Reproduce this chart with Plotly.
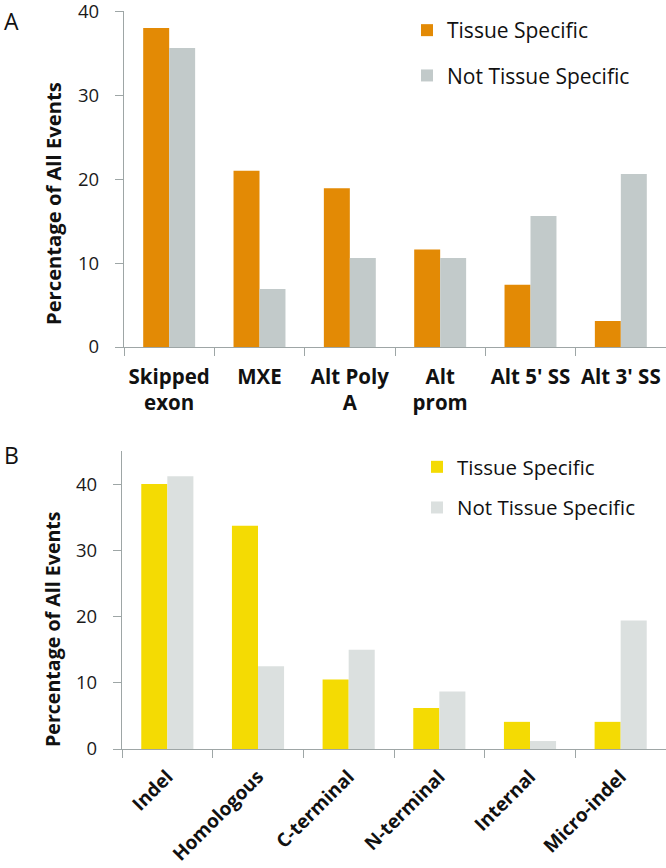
import plotly.graph_objects as go

# Panel A data
cats_a = ["Skipped<br>exon", "MXE", "Alt Poly<br>A", "Alt<br>prom", "Alt 5' SS", "Alt 3' SS"]
ts_a = [38.0, 21.0, 18.9, 11.6, 7.4, 3.1]
nts_a = [35.6, 6.9, 10.6, 10.6, 15.6, 20.6]

# Panel B data
cats_b = ["Indel", "Homologous", "C-terminal", "N-terminal", "Internal", "Micro-indel"]
ts_b = [40.0, 33.7, 10.5, 6.2, 4.1, 4.1]
nts_b = [41.2, 12.5, 15.0, 8.7, 1.2, 19.4]

series_names = ["Tissue Specific", "Not Tissue Specific"]
y_ticks_a = [0, 10, 20, 30, 40]
y_ticks_b = [0, 10, 20, 30, 40]
y_title = "Percentage of All Events"

ORANGE = "#E38A05"
GRAY_A = "#C2CACA"
YELLOW = "#F4DB03"
GRAY_B = "#DBE0DF"
AXIS = "#9EA6A6"
FONT = "Open Sans"
W, H = 666, 868

fig = go.Figure()
fig.add_trace(go.Bar(x=cats_a, y=ts_a, name=series_names[0], marker=dict(color=ORANGE, line=dict(width=0)),
                     xaxis="x", yaxis="y", legend="legend", legendgroup="a1"))
fig.add_trace(go.Bar(x=cats_a, y=nts_a, name=series_names[1], marker=dict(color=GRAY_A, line=dict(width=0)),
                     xaxis="x", yaxis="y", legend="legend", legendgroup="a2"))
fig.add_trace(go.Bar(x=cats_b, y=ts_b, name=series_names[0], marker=dict(color=YELLOW, line=dict(width=0)),
                     xaxis="x2", yaxis="y2", legend="legend2", legendgroup="b1"))
fig.add_trace(go.Bar(x=cats_b, y=nts_b, name=series_names[1], marker=dict(color=GRAY_B, line=dict(width=0)),
                     xaxis="x2", yaxis="y2", legend="legend2", legendgroup="b2"))

ax_common = dict(showline=True, linecolor=AXIS, linewidth=1.3, ticks="outside", tickcolor=AXIS,
                 showgrid=False, zeroline=False, automargin=False, ticklabeloverflow="allow")

fig.update_layout(
    width=W, height=H,
    margin=dict(l=0, r=0, t=0, b=0),
    paper_bgcolor="white", plot_bgcolor="white",
    font=dict(family=FONT, color="#1a1a1a"),
    barmode="group", bargap=0.425, bargroupgap=0,
    showlegend=True,
    xaxis=dict(domain=[124 / W, 1], anchor="y", tickson="boundaries", ticklen=8, range=[-0.5, 5.5],
               tickfont=dict(size=20.5, weight="bold", color="#111"), ticklabelstandoff=11, **ax_common),
    yaxis=dict(domain=[1 - 347 / H, 1 - 11 / H], anchor="x", range=[0, 40.02], tickvals=y_ticks_a, ticklen=8,
               tickfont=dict(size=18.5), ticklabelstandoff=12, **ax_common),
    xaxis2=dict(domain=[122 / W, 1], anchor="y2", tickson="boundaries", ticklen=8, range=[-0.5, 5.5], tickangle=-45,
                tickfont=dict(size=19, weight="bold", color="#111"), ticklabelstandoff=8, **ax_common),
    yaxis2=dict(domain=[1 - 749 / H, 1 - 451 / H], anchor="x2", range=[0, 45], tickvals=y_ticks_b, ticklen=8,
                tickfont=dict(size=18.5), ticklabelstandoff=12, **ax_common),
    legend=dict(x=407 / W, y=1 - 10 / H, xanchor="left", yanchor="top", font=dict(size=21, color="#111"),
                tracegroupgap=15, bgcolor="rgba(0,0,0,0)"),
    legend2=dict(x=417 / W, y=1 - 447 / H, xanchor="left", yanchor="top", font=dict(size=20.5, color="#111"),
                 tracegroupgap=11, bgcolor="rgba(0,0,0,0)"),
    annotations=[
        dict(text="A", x=2 / W, y=1 - 21 / H, xref="paper", yref="paper", xanchor="left", yanchor="middle",
             showarrow=False, font=dict(size=23, color="#111")),
        dict(text="B", x=2 / W, y=1 - 455 / H, xref="paper", yref="paper", xanchor="left", yanchor="middle",
             showarrow=False, font=dict(size=23, color="#111")),
        dict(text=y_title, x=53 / W, y=1 - 204 / H, xref="paper", yref="paper", xanchor="center", yanchor="middle",
             textangle=-90, showarrow=False, font=dict(size=20.2, weight="bold", color="#111")),
        dict(text=y_title, x=52 / W, y=1 - 629 / H, xref="paper", yref="paper", xanchor="center", yanchor="middle",
             textangle=-90, showarrow=False, font=dict(size=19.6, weight="bold", color="#111")),
    ],
)

fig.write_html("out.html", config={"displayModeBar": False},
               post_script="document.body.style.margin='0';")
